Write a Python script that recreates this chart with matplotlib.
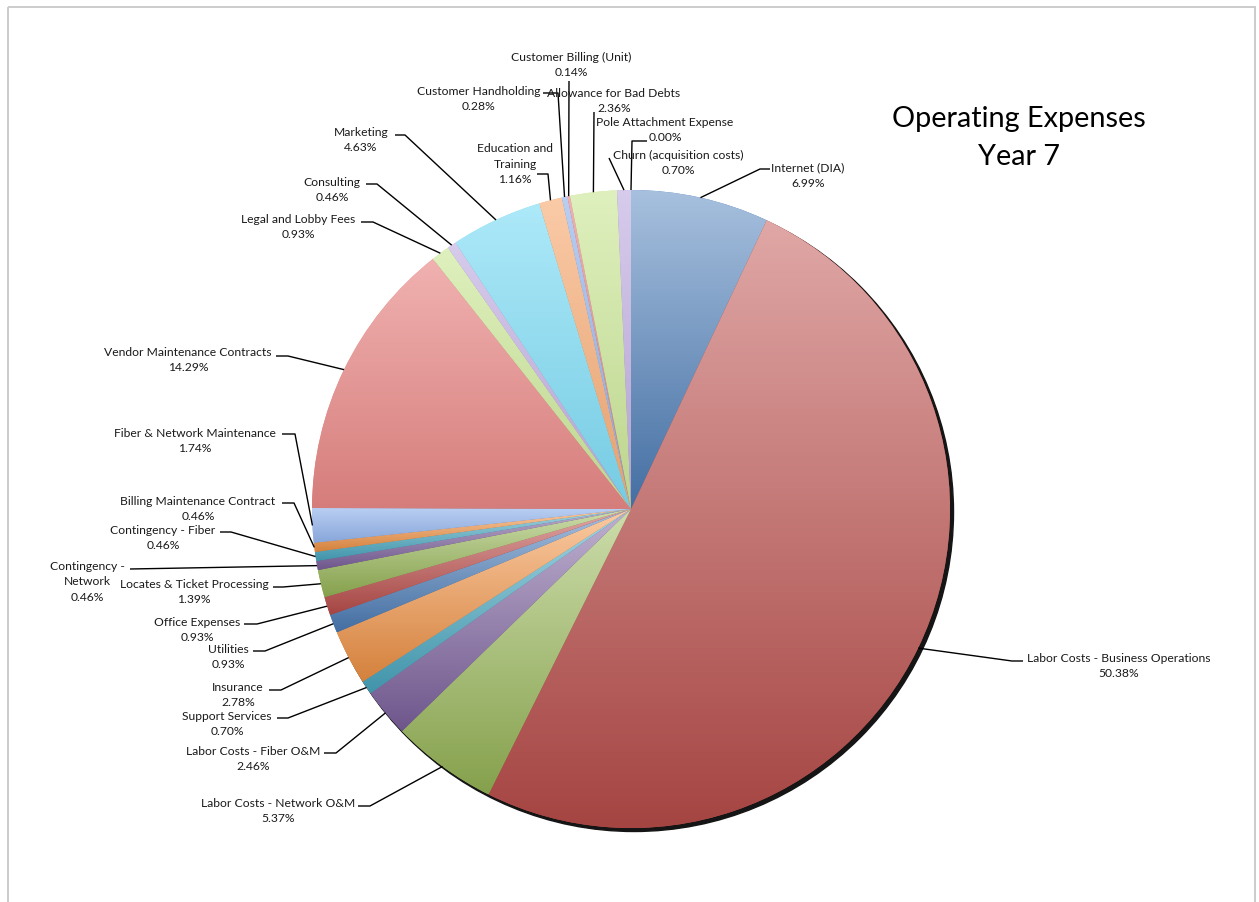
import numpy as np
import matplotlib
matplotlib.use("Agg")
import matplotlib.pyplot as plt
from matplotlib.colors import to_rgb
from matplotlib.patches import Circle, Rectangle

# Dane: udzial poszczegolnych kosztow (rok 7), kolejnosc zgodnie z ruchem wskazowek zegara
kategorie = [
    "Internet (DIA)", "Labor Costs - Business Operations", "Labor Costs - Network O&M",
    "Labor Costs - Fiber O&M", "Support Services", "Insurance", "Utilities",
    "Office Expenses", "Locates & Ticket Processing", "Contingency -\nNetwork",
    "Contingency - Fiber", "Billing Maintenance Contract", "Fiber & Network Maintenance",
    "Vendor Maintenance Contracts", "Legal and Lobby Fees", "Consulting", "Marketing",
    "Education and\nTraining", "Customer Handholding", "Customer Billing (Unit)",
    "Allowance for Bad Debts", "Churn (acquisition costs)", "Pole Attachment Expense",
]
udzialy = [6.99, 50.38, 5.37, 2.46, 0.70, 2.78, 0.93, 0.93, 1.39, 0.46, 0.46, 0.46,
           1.74, 14.29, 0.93, 0.46, 4.63, 1.16, 0.28, 0.14, 2.36, 0.70, 0.00]

# Paleta w stylu Excela: dwa cykle ciemniejsze, potem jasniejsze odcienie
bazowe = ["#4F81BD", "#C0504D", "#9BBB59", "#8064A2", "#4BACC6", "#F79646"]
jasne = ["#93B4EC", "#E88886", "#CDE89A", "#C2B0E2", "#80DDF6", "#F8AE78"]

W, H = 1259, 903
SRODEK = (631, 510)
R = 319

# pozycje etykiet (srodek bloku tekstu) i punkty linii odniesienia, w pikselach
etykiety_xy = [
    (808, 176), (1119, 666), (278, 811), (253, 759), (227, 724), (238, 695),
    (228, 657), (197, 630), (194, 592), (87, 582), (163, 538), (198, 509),
    (195, 441), (188, 360), (298, 227), (332, 190), (361, 140), (515, 164),
    (479, 99), (571, 65), (614, 101), (678, 163), (665, 130),
]
linie_xy = [
    [(770, 170), (760, 170)], [(1023, 662), (1012, 662)], [(358, 807), (370, 807)],
    [(324, 754), (336, 754)], [(277, 719), (288, 719)], [(269, 691), (281, 691)],
    [(253, 652), (265, 652)], [(244, 625), (257, 625)], [(273, 588), (283, 588)],
    [(130, 570)], [(220, 533), (231, 533)], [(282, 504), (294, 504)],
    [(282, 435), (295, 435)], [(276, 357), (288, 357)], [(361, 223), (373, 223)],
    [(366, 185), (377, 185)], [(395, 136), (405, 136)], [(537, 175), (548, 175)],
    [(543, 94), (558, 94)], [(569, 82)], [(594, 113)], [(609, 159)],
    [(647, 142), (632, 142)],
]


def mieszaj(c, z, t):
    c = np.array(to_rgb(c))
    return c + (np.array(z) - c) * t


plt.rcParams['font.family'] = ['Lato', 'DejaVu Sans']

fig = plt.figure(figsize=(W / 100, H / 100), dpi=100)
ax = fig.add_axes([0, 0, 1, 1])

kolory = []
for i in range(len(udzialy)):
    kolory.append(bazowe[i % 6] if i < 12 else jasne[i % 6])

# cien pod tortem
ax.add_patch(Circle((SRODEK[0] + 3, SRODEK[1] + 3), R + 0.5, color="#151515", zorder=1))

klin = ax.pie(udzialy, colors=kolory, startangle=-90, counterclock=True,
              center=SRODEK, radius=R, wedgeprops=dict(linewidth=0, zorder=2),
              normalize=True)[0]

# gradient pionowy w kazdym wycinku (jasny u gory, ciemniejszy na dole)
for i, w in enumerate(klin):
    if udzialy[i] <= 0:
        continue
    w.set_zorder(2)
    ext = w.get_path().get_extents()
    if i < 12:
        gora, dol = mieszaj(kolory[i], (1, 1, 1), 0.5), mieszaj(kolory[i], (0, 0, 0), 0.14)
    else:
        gora, dol = mieszaj(kolory[i], (1, 1, 1), 0.35), mieszaj(kolory[i], (0, 0, 0), 0.08)
    t = np.linspace(0, 1, 256)[:, None, None]
    grad = gora[None, None, :] * (1 - t) + dol[None, None, :] * t
    im = ax.imshow(grad, extent=(ext.x0, ext.x1, ext.y1, ext.y0), origin="upper",
                   aspect="auto", zorder=3, interpolation="bilinear")
    im.set_clip_path(w)

# etykiety z liniami odniesienia
for i, w in enumerate(klin):
    kat = np.deg2rad((w.theta1 + w.theta2) / 2)
    px = SRODEK[0] + R * np.cos(kat)
    py = SRODEK[1] + R * np.sin(kat)
    pkt = linie_xy[i] + [(px, py)]
    ax.plot([p[0] for p in pkt], [p[1] for p in pkt], color="black", lw=1.0, zorder=4,
            solid_capstyle="butt")
    tx, ty = etykiety_xy[i]
    ax.text(tx, ty, f"{kategorie[i]}\n{udzialy[i]:.2f}%", ha="center", va="center",
            fontsize=8.7, color="#1a1a1a", linespacing=1.5, zorder=5)

ax.text(1019, 138, "Operating Expenses\nYear 7", ha="center", va="center",
        fontsize=20.8, color="black", linespacing=1.6)

# ramka obszaru wykresu
ax.add_patch(Rectangle((8, 8), 1247, 920, fill=False, edgecolor="#cccccc", lw=1.4,
                       zorder=0))

ax.set_xlim(0, W)
ax.set_ylim(H, 0)
ax.set_aspect("auto")
ax.axis("off")

fig.savefig("out.png", dpi=100, facecolor="white")
